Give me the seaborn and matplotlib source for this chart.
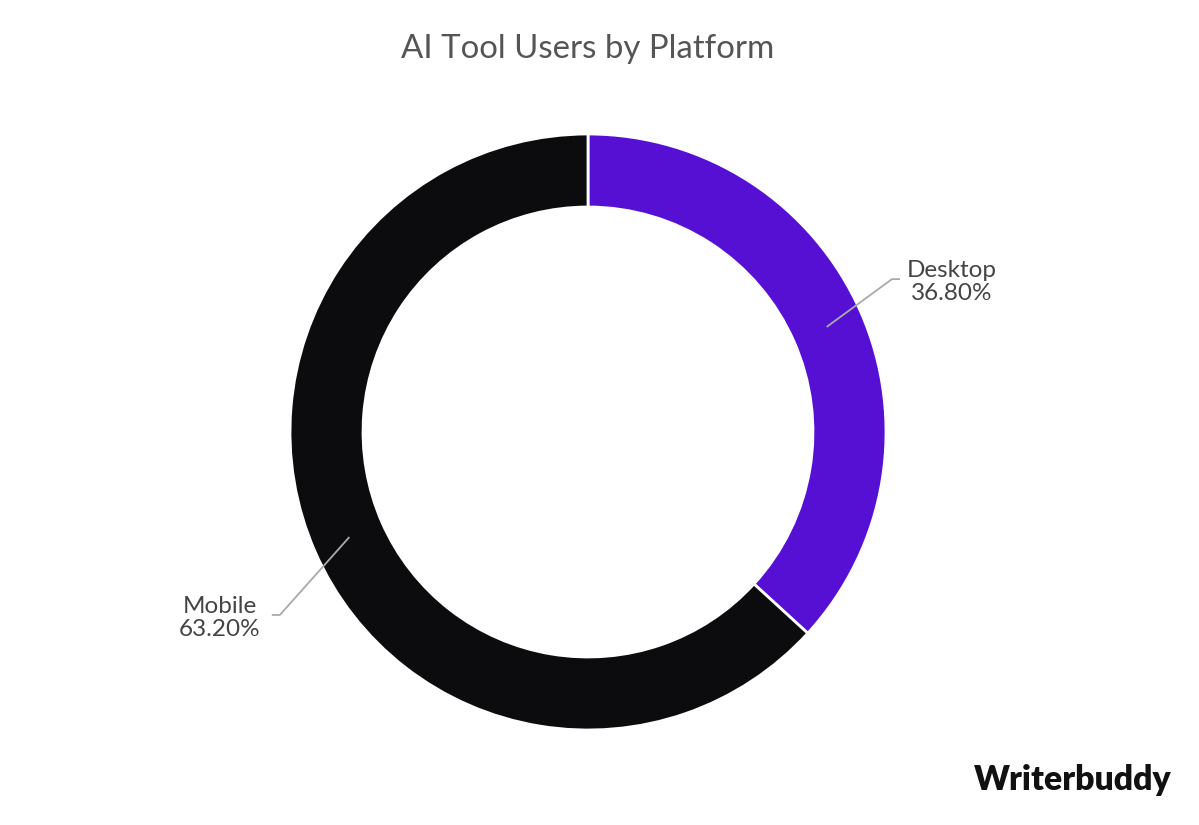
import numpy as np
import matplotlib
matplotlib.use("Agg")
import matplotlib.pyplot as plt
import seaborn as sns

# Data
platforms = ["Desktop", "Mobile"]
shares = [36.80, 63.20]
colors = ["#5510d4", "#0c0c0e"]
title = "AI Tool Users by Platform"

sns.set_theme(style="white")
plt.rcParams['font.family'] = ['Lato', 'DejaVu Sans']

W, H = 1199, 825
fig = plt.figure(figsize=(W / 100, H / 100), dpi=100)
fig.patch.set_facecolor("white")

cx, cy, R = 588, 432, 298
ax = fig.add_axes([0, 0, 1, 1])
wedges, _ = ax.pie(shares, colors=colors, startangle=90, counterclock=False,
                   radius=1.0,
                   wedgeprops=dict(width=0.245, edgecolor="white", linewidth=2))
ax.set_aspect("auto")
ax.set_xlim(-cx / R, (W - cx) / R)
ax.set_ylim(-(H - cy) / R, cy / R)
ax.axis("off")

# labels with leader lines
elbows = {"Desktop": (1.02, 0.513), "Mobile": (-1.034, -0.614)}
for w, name, val in zip(wedges, platforms, shares):
    ang = np.deg2rad((w.theta1 + w.theta2) / 2)
    sx, sy = 0.875 * np.cos(ang), 0.875 * np.sin(ang)
    ex, ey = elbows[name]
    side = 1 if ex > 0 else -1
    hx = ex + side * 0.027
    ax.plot([sx, ex, hx], [sy, ey, ey], color="#aaaaaa", lw=1.3, solid_capstyle="butt")
    ax.text(hx + side * 0.175, ey - 0.01, f"{name}\n{val:.2f}%", ha="center", va="center",
            fontsize=17.5, color="#444444", linespacing=1.12)

fig.text(cx / W, 1 - 49 / H, title, ha="center", va="center", fontsize=23.8, color="#555555")
fig.text(1172 / W, 1 - 780 / H, "Writerbuddy", ha="right", va="center",
         fontsize=24.3, fontweight="heavy", color="#111111")

fig.savefig("out.png", dpi=100)
